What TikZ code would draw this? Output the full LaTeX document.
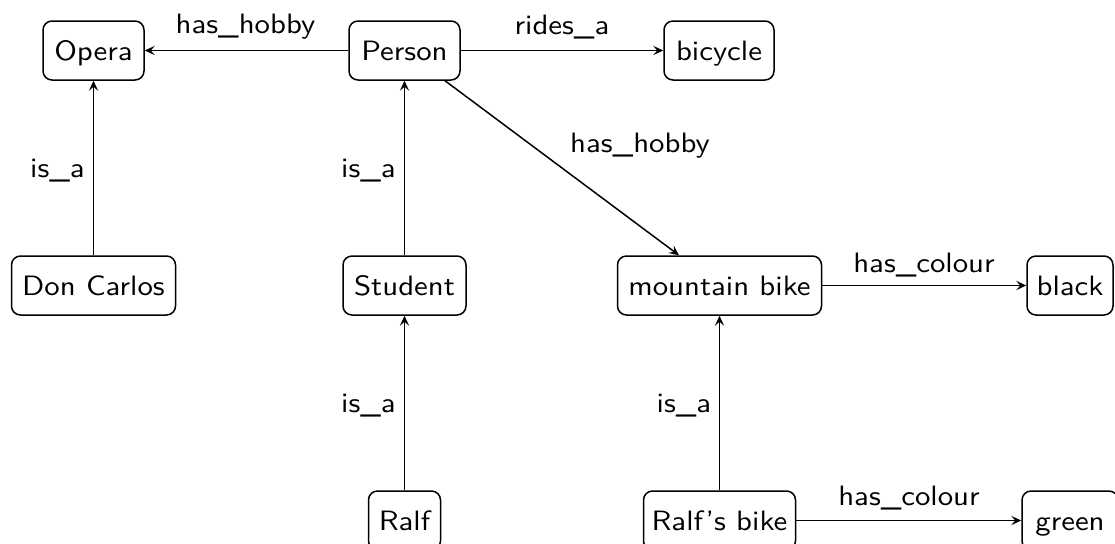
\documentclass[tikz,border=0pt]{standalone}
\usepackage{fontspec}
\setmainfont{lmsans10-regular.otf}[FakeStretch=1.1]
\usetikzlibrary{arrows.meta}
\begin{document}
\begin{tikzpicture}[x=0.5pt,y=-0.5pt,
  box/.style={draw, rounded corners=4.5pt, line width=0.75pt, inner sep=0pt,
    minimum height=29.5pt, text height=9.5pt, text depth=0pt,
    font=\fontsize{14}{16}\selectfont},
  lbl/.style={anchor=base, inner sep=0pt, font=\fontsize{14}{16}\selectfont},
  arr/.style={line width=0.75pt, -{Stealth[length=5pt,width=4.6pt,inset=2pt]}}]
\useasboundingbox (0,0) rectangle (1115,543);
% nodes
\node[box, minimum width=50.5pt] (opera) at (93.5,50.5) {Opera};
\node[box, minimum width=55.5pt] (person) at (404.5,50.5) {Person};
\node[box, minimum width=55pt] (bicycle) at (719,50.5) {bicycle};
\node[box, minimum width=82pt] (doncarlos) at (93.5,285.5) {Don Carlos};
\node[box, minimum width=61.5pt] (student) at (404.5,285.5) {Student};
\node[box, minimum width=102pt] (mbike) at (719.5,285.5) {mountain bike};
\node[box, minimum width=43pt] (black) at (1070,285.5) {black};
\node[box, minimum width=36pt] (ralf) at (404.5,520.5) {Ralf};
\node[box, minimum width=76pt] (rbike) at (719.5,520.5) {Ralf’s bike};
\node[box, minimum width=48pt] (green) at (1070,520.5) {green};
% connectors
\draw[arr] (person) -- (opera);
\draw[arr] (person) -- (bicycle);
\draw[arr] (person) -- (mbike);
\draw[arr] (doncarlos) -- (opera);
\draw[arr] (student) -- (person);
\draw[arr] (ralf) -- (student);
\draw[arr] (rbike) -- (mbike);
\draw[arr] (mbike) -- (black);
\draw[arr] (rbike) -- (green);
% labels
\node[lbl] (l1) at (245.5,33) {has\_hobby};
\node[lbl] (l2) at (562,34) {rides\_a};
\node[lbl] (l3) at (640,152) {has\_hobby};
\node[lbl] (l4) at (57.5,177) {is\_a};
\node[lbl] (l5) at (368.5,177) {is\_a};
\node[lbl] (l6) at (368.5,412) {is\_a};
\node[lbl] (l7) at (684,412) {is\_a};
\node[lbl] (l8) at (924,272) {has\_colour};
\node[lbl] (l9) at (909,505) {has\_colour};
\end{tikzpicture}
\end{document}
